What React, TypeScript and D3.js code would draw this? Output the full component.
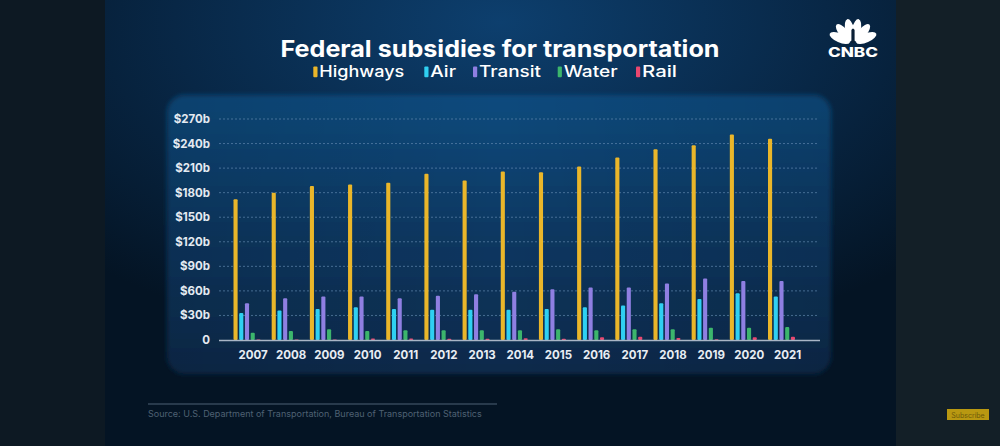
import React from "react";
import * as d3 from "d3";

const years = ["2007","2008","2009","2010","2011","2012","2013","2014","2015","2016","2017","2018","2019","2020","2021"];
const seriesNames = ["Highways","Air","Transit","Water","Rail"];
const seriesColors = ["#eab62a","#2fd0f2","#8f7fe2","#3cb56c","#e9476f"];
const highways = [172,180,188,190,192,203,195,206,205,212,223,233,238,251,246];
const air = [33,36,38,40,38,37,37,37,38,40,42,45,50,57,53];
const transit = [45,51,53,53,51,54,56,59,62,64,64,69,75,72,72];
const water = [9,11,13,11,12,12,12,12,13,12,13,13,15,15,16];
const rail = [0.5,0.5,0.7,1.8,1.8,1.5,1.5,2,1.5,3.3,4,2.5,1,3.3,4];
const yTicks = [0,30,60,90,120,150,180,210,240,270];
const titleText = "Federal subsidies for transportation";
const sourceText = "Source: U.S. Department of Transportation, Bureau of Transportation Statistics";

const seriesValues = [highways, air, transit, water, rail];

export default function App() {
  const W = 1000, H = 446;
  const y = d3.scaleLinear().domain([0, 270]).range([340, 119]);
  const xOuter = d3.scalePoint<string>().domain(years).range([247, 781.5]);
  const xInner = d3.scaleBand<string>().domain(seriesNames).range([-13.5, 13.5]).paddingInner(0.28);
  const font = "Inter, 'Open Sans', sans-serif";
  const fmt = (v: number) => (v === 0 ? "0" : `$${v}b`);

  const legendX = [313.3, 424.3, 473, 557.7, 636];
  const legendW = [85, 25.7, 62, 54, 35];
  const feathers = [-66, -40, -13, 13, 40, 66];

  return (
    <svg width={W} height={H} style={{ position: "fixed", left: 0, top: 0, display: "block" }} xmlns="http://www.w3.org/2000/svg">
      <defs>
        <radialGradient id="bg" cx="0.5" cy="0.05" r="0.75">
          <stop offset="0" stopColor="#0d3f6e" />
          <stop offset="0.55" stopColor="#082746" />
          <stop offset="1" stopColor="#041424" />
        </radialGradient>
        <linearGradient id="panel" x1="0" y1="0" x2="0" y2="1">
          <stop offset="0" stopColor="#0f4b7e" />
          <stop offset="0.5" stopColor="#0b3862" />
          <stop offset="1" stopColor="#082a4b" />
        </linearGradient>
        <linearGradient id="panelSide" x1="0" y1="0" x2="1" y2="0">
          <stop offset="0" stopColor="#000" stopOpacity="0.12" />
          <stop offset="0.5" stopColor="#000" stopOpacity="0" />
          <stop offset="1" stopColor="#000" stopOpacity="0.12" />
        </linearGradient>
        <filter id="soft" x="-5%" y="-5%" width="110%" height="110%">
          <feGaussianBlur stdDeviation="2" />
        </filter>
      </defs>

      <rect x={0} y={0} width={W} height={H} fill="#0d1923" />
      <rect x={105} y={0} width={791} height={H} fill="url(#bg)" />
      <rect x={896} y={0} width={104} height={H} fill="#131f27" />

      <rect x={167} y={95} width={664} height={279} rx={18} fill="url(#panel)" filter="url(#soft)" />
      <rect x={167} y={95} width={664} height={279} rx={18} fill="url(#panelSide)" />

      <text x={500} y={56.5} textAnchor="middle" fill="#ffffff" fontFamily={font} fontWeight={700} fontSize={23} textLength={439} lengthAdjust="spacingAndGlyphs">{titleText}</text>

      {seriesNames.map((s, i) => (
        <g key={s}>
          <rect x={legendX[i]} y={66.5} width={4.2} height={10.8} rx={1} fill={seriesColors[i]} />
          <text x={legendX[i] + 6} y={77.3} fill="#ffffff" fontFamily={font} fontWeight={500} fontSize={16} textLength={legendW[i]} lengthAdjust="spacingAndGlyphs">{s}</text>
        </g>
      ))}

      {yTicks.map((t) => (
        <g key={t}>
          {t > 0 && (
            <line x1={219} x2={819} y1={y(t)} y2={y(t)} stroke="#5f86ad" strokeOpacity={0.7} strokeWidth={1} strokeDasharray="2,2" />
          )}
          <text x={210} y={y(t) + 4} textAnchor="end" fill="#e4eaf1" fontFamily={font} fontWeight={700} fontSize={11.5}>{fmt(t)}</text>
        </g>
      ))}

      {years.map((yr, j) => (
        <g key={yr} transform={`translate(${xOuter(yr)},0)`}>
          {seriesNames.map((s, i) => {
            const v = seriesValues[i][j];
            const top = y(v);
            return (
              <rect key={s} x={xInner(s)} y={top} width={xInner.bandwidth()} height={y(0) - top} rx={1} fill={seriesColors[i]} />
            );
          })}
          <text x={6} y={359} textAnchor="middle" fill="#e8edf3" fontFamily={font} fontWeight={700} fontSize={11.5}>{yr}</text>
        </g>
      ))}

      <line x1={219} x2={820} y1={y(0) + 0.5} y2={y(0) + 0.5} stroke="#a9b6c6" strokeWidth={1.5} />

      <line x1={148} x2={497} y1={404} y2={404} stroke="#34475a" strokeWidth={1.5} />
      <text x={148} y={417} fill="#4f6173" fontFamily={font} fontSize={9}>{sourceText}</text>

      <g transform="translate(853,44)">
        {feathers.map((a) => (
          <ellipse key={a} cx={0} cy={-14.5} rx={4.4} ry={11} fill="#ffffff" transform={`rotate(${a})`} />
        ))}
        <path d="M-1.6,-1 L-1.6,-14 Q0,-17 1.6,-14 L1.6,-1 Z" fill="#0a1f35" />
      </g>
      <text x={853} y={57} textAnchor="middle" fill="#ffffff" fontFamily={font} fontWeight={800} fontSize={13.5} textLength={50} lengthAdjust="spacingAndGlyphs">CNBC</text>

      <rect x={947} y={409} width={42} height={11} fill="#b99811" />
      <text x={968} y={417.5} textAnchor="middle" fill="#6e5a0a" fontFamily={font} fontSize={7}>Subscribe</text>
    </svg>
  );
}
